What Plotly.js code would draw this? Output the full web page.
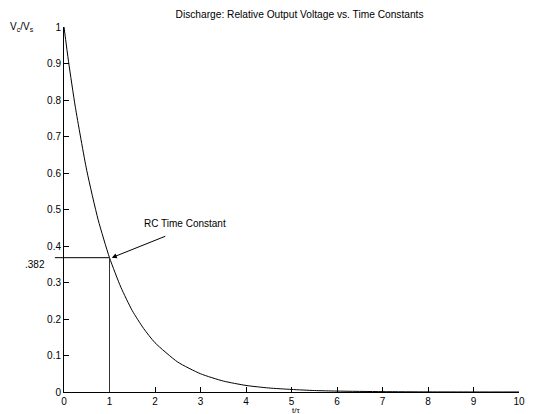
<!DOCTYPE html>
<html><head><meta charset="utf-8">
<script src="https://cdn.plot.ly/plotly-3.0.1.min.js"></script>
<style>html,body{margin:0;padding:0;background:#fff}</style>
</head><body>
<div id="chart" style="width:533px;height:414px"></div>
<script>
// values (t/tau, Vc/Vs)
const timeConstants = [0, 0.1, 0.25, 0.5, 0.75, 1, 1.25, 1.5, 1.75, 2, 2.5, 3, 3.5, 4, 4.5, 5, 5.5, 6, 7, 8, 9, 10];
const relVoltage   = [1, 0.905, 0.78, 0.607, 0.472, 0.368, 0.287, 0.223, 0.174, 0.135, 0.082, 0.05, 0.03, 0.018, 0.011, 0.007, 0.004, 0.0025, 0.001, 0.0003, 0.0001, 0.00005];
const markerT = 1;
const markerV = 0.368;
const markerLabel = '.382';
const yTicks = [0, 0.1, 0.2, 0.3, 0.4, 0.5, 0.6, 0.7, 0.8, 0.9, 1];
const xTicks = [0, 1, 2, 3, 4, 5, 6, 7, 8, 9, 10];

const font = {family: 'Liberation Sans, Arial, sans-serif', size: 10, color: '#000'};

Plotly.newPlot('chart', [{
  x: timeConstants, y: relVoltage, type: 'scatter', mode: 'lines',
  line: {color: '#000', width: 1, shape: 'spline', smoothing: 0.6},
  hoverinfo: 'skip'
}], {
  width: 533, height: 414,
  margin: {l: 64, r: 14, t: 27, b: 22, pad: 0},
  paper_bgcolor: '#fff', plot_bgcolor: '#fff',
  font: font,
  showlegend: false,
  title: {text: 'Discharge: Relative Output Voltage vs. Time Constants', font: {family: font.family, size: 10.2, color: '#000'}, x: 0.562, xanchor: 'center', y: 0.966, yanchor: 'middle'},
  xaxis: {range: [0, 10], tickvals: xTicks, ticks: 'inside', ticklen: 5, tickcolor: '#000', showgrid: false, zeroline: false,
          showline: true, linecolor: '#000', linewidth: 1, mirror: false, tickfont: font, fixedrange: true},
  yaxis: {range: [0, 1], tickvals: yTicks, ticktext: yTicks.map(v => String(v)), ticks: 'inside', ticklen: 5, tickcolor: '#000', showgrid: false, zeroline: false,
          showline: true, linecolor: '#000', linewidth: 1, mirror: false, tickfont: font, fixedrange: true},
  shapes: [
    {type: 'line', xref: 'paper', yref: 'y', x0: -0.02, x1: markerT / 10, y0: markerV, y1: markerV, line: {color: '#000', width: 1}},
    {type: 'line', xref: 'x', yref: 'y', x0: markerT, x1: markerT, y0: 0, y1: markerV, line: {color: '#333', width: 1}}
  ],
  annotations: [
    {xref: 'paper', yref: 'y', x: -0.064, y: 0.35, text: markerLabel, showarrow: false, font: font, xanchor: 'center', yanchor: 'middle'},
    {xref: 'x', yref: 'y', x: markerT + 0.05, y: markerV, text: '', showarrow: true,
     arrowhead: 2, arrowsize: 1, arrowwidth: 1, arrowcolor: '#000', ax: 55, ay: -22, standoff: 0},
    {xref: 'paper', yref: 'y', x: 0.266, y: 0.463, text: 'RC Time Constant', showarrow: false, font: font, xanchor: 'center', yanchor: 'middle'},
    {xref: 'paper', yref: 'paper', x: -0.092, y: 1.0, text: 'V<sub>c</sub>/V<sub>s</sub>', showarrow: false, font: font, xanchor: 'center', yanchor: 'middle'},
    {xref: 'paper', yref: 'paper', x: 0.51, y: -0.05, text: 't/τ', showarrow: false, font: {family: font.family, size: 8, color: '#000'}, xanchor: 'center', yanchor: 'middle'}
  ]
}, {displayModeBar: false, staticPlot: true});
</script>
</body></html>
